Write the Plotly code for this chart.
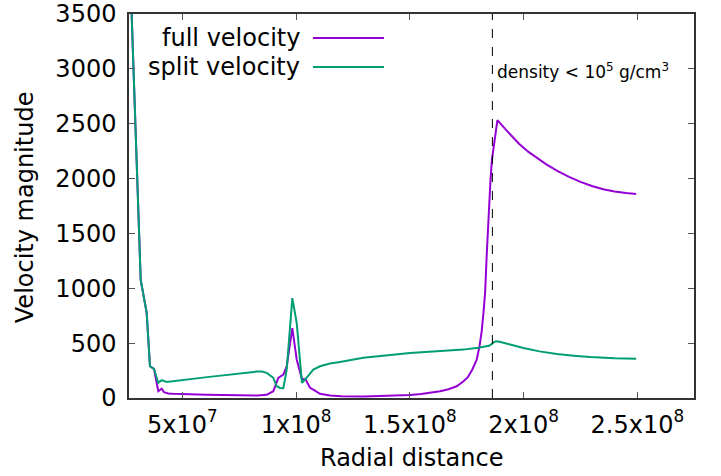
import plotly.graph_objects as go

# Radial distance (cm) and velocity magnitudes
full_r = [2.70e7, 3.174e7, 3.437e7, 3.582e7, 3.758e7, 3.947e7, 4.097e7, 4.198e7, 4.387e7, 4.607e7,
          6.075e7, 7.538e7, 8.30e7, 8.712e7, 9.002e7, 9.222e7, 9.442e7, 9.591e7, 9.837e7, 10.031e7,
          10.26e7, 10.426e7, 10.615e7, 10.76e7, 11.055e7, 11.5e7, 12.0e7, 13.0e7, 14.0e7, 15.0e7,
          15.5e7, 16.0e7, 16.33e7, 16.7e7, 17.06e7, 17.35e7, 17.55e7, 17.75e7, 17.94e7, 18.07e7,
          18.16e7, 18.24e7, 18.31e7, 18.38e7, 18.46e7, 18.55e7, 18.61e7, 18.85e7, 19.2e7, 19.5e7,
          19.8e7, 20.2e7, 20.6e7, 21.0e7, 21.5e7, 22.0e7, 22.5e7, 23.0e7, 23.5e7, 24.0e7,
          24.5e7, 24.95e7]
full_v = [3960, 1076, 776, 289, 266, 62, 84, 53, 41, 38,
          29, 23, 22, 29, 62, 184, 214, 289, 637, 349,
          175, 168, 93, 77, 38, 22, 15, 14, 18, 27,
          36, 50, 62, 80, 107, 150, 190, 260, 349, 480,
          610, 780, 960, 1300, 1700, 2000, 2170, 2533, 2450, 2380,
          2318, 2245, 2185, 2130, 2068, 2015, 1970, 1932, 1903, 1882,
          1868, 1860]

split_r = [2.70e7, 3.174e7, 3.437e7, 3.582e7, 3.758e7, 3.947e7, 4.097e7, 4.316e7, 6.0e7, 8.0e7,
           8.27e7, 8.50e7, 8.712e7, 9.002e7, 9.152e7, 9.30e7, 9.442e7, 9.591e7, 9.837e7, 10.031e7,
           10.26e7, 10.426e7, 10.60e7, 10.76e7, 11.055e7, 11.349e7, 11.494e7, 11.934e7, 12.958e7, 15.011e7,
           16.33e7, 17.354e7, 18.01e7, 18.48e7, 18.60e7, 18.70e7, 18.80e7, 18.95e7, 19.41e7, 19.99e7,
           20.7e7, 21.46e7, 22.2e7, 22.92e7, 24.0e7, 24.95e7]
split_v = [3960, 1076, 776, 289, 266, 138, 162, 147, 188, 236,
           241, 241, 229, 184, 107, 92, 89, 258, 910, 682,
           138, 175, 220, 259, 289, 305, 314, 329, 366, 411,
           425, 441, 459, 476, 490, 510, 517, 512, 487, 455,
           425, 400, 385, 373, 362, 358]

density_r = 1.863e8
x_ticks = [5e7, 1e8, 1.5e8, 2e8, 2.5e8]
x_tick_text = ["5x10<sup>7</sup>", "1x10<sup>8</sup>", "1.5x10<sup>8</sup>", "2x10<sup>8</sup>", "2.5x10<sup>8</sup>"]
y_ticks = [0, 500, 1000, 1500, 2000, 2500, 3000, 3500]

PURPLE = "#9400D3"
GREEN = "#009E73"
FONT = "DejaVu Sans"
FS = 24

fig = go.Figure()
fig.add_trace(go.Scatter(x=full_r, y=full_v, mode="lines", name="full velocity",
                         line=dict(color=PURPLE, width=2), showlegend=False))
fig.add_trace(go.Scatter(x=split_r, y=split_v, mode="lines", name="split velocity",
                         line=dict(color=GREEN, width=2), showlegend=False))

# vertical dashed density marker
fig.add_shape(type="line", xref="x", yref="paper", x0=density_r, x1=density_r, y0=0, y1=1,
              line=dict(color="black", width=1, dash="dash"))
fig.add_annotation(x=density_r, xref="x", y=0.886, yref="paper", xanchor="left", xshift=3,
                   text="density < 10<sup>5</sup> g/cm<sup>3</sup>", showarrow=False,
                   font=dict(family=FONT, size=17, color="black"))

# gnuplot-style legend: text left of line sample
legend_items = [("full velocity", PURPLE, 0.9375), ("split velocity", GREEN, 0.862)]
for name, col, yy in legend_items:
    fig.add_annotation(x=0.306, y=yy, xref="paper", yref="paper", xanchor="right", yanchor="middle",
                       text=name, showarrow=False, font=dict(family=FONT, size=FS, color="black"))
    fig.add_shape(type="line", xref="paper", yref="paper", x0=0.3257, x1=0.4513, y0=yy, y1=yy,
                  line=dict(color=col, width=2))

# axis titles
fig.add_annotation(x=0.5, y=-0.156, xref="paper", yref="paper", xanchor="center", yanchor="middle",
                   text="Radial distance", showarrow=False, font=dict(family=FONT, size=FS, color="black"))
fig.add_annotation(x=-0.184, y=0.497, xref="paper", yref="paper", xanchor="center", yanchor="middle",
                   text="Velocity magnitude", textangle=-90, showarrow=False,
                   font=dict(family=FONT, size=FS, color="black"))

axis_common = dict(showline=True, linecolor="#333333", linewidth=1.5, mirror="ticks",
                   ticks="inside", ticklen=6, tickcolor="#555555", tickwidth=1,
                   showgrid=False, zeroline=False, automargin=False,
                   tickfont=dict(family=FONT, size=FS, color="black"))

fig.update_xaxes(range=[2.66e7, 2.749e8], tickvals=x_ticks, ticktext=x_tick_text,
                 ticklabelstandoff=4, **axis_common)
fig.update_yaxes(range=[0, 3500], tickvals=y_ticks, ticklabelstandoff=6, **axis_common)

fig.update_layout(width=721, height=476, margin=dict(l=129, r=27, t=14, b=78),
                  plot_bgcolor="white", paper_bgcolor="white",
                  font=dict(family=FONT, size=FS, color="black"))

fig.write_html("out.html")
